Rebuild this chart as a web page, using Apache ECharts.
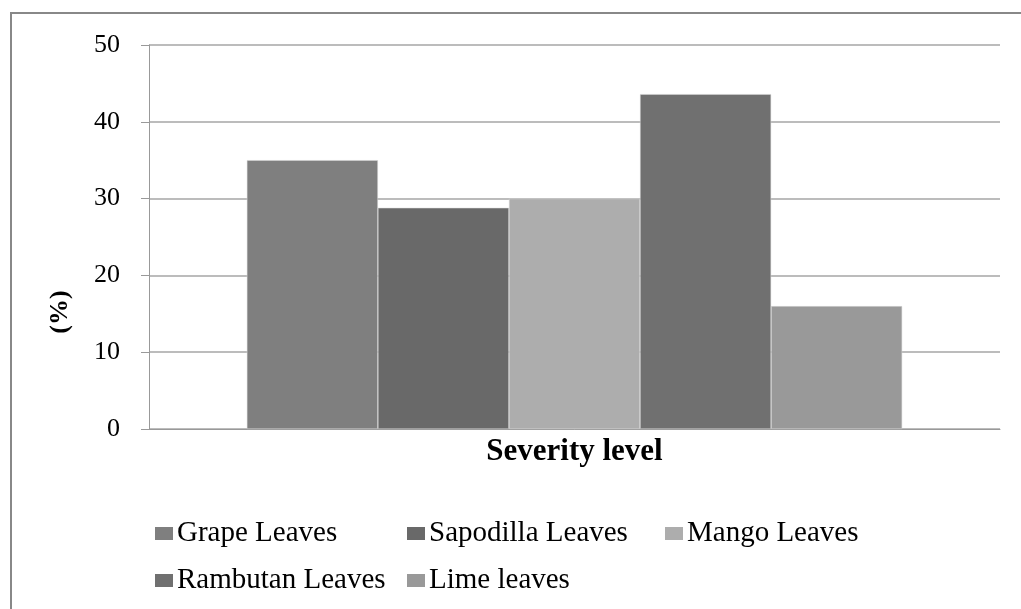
<!DOCTYPE html>
<html>
<head>
<meta charset="utf-8">
<title>Severity level</title>
<script src="https://cdn.jsdelivr.net/npm/echarts@6/dist/echarts.min.js"></script>
<style>
  html, body { margin: 0; padding: 0; background: #fff; }
  #chart { width: 1021px; height: 609px; }
</style>
</head>
<body>
<div id="chart"></div>
<script>
// data
const categories = ['Severity level']
const seriesNames = ['Grape Leaves', 'Sapodilla Leaves', 'Mango Leaves', 'Rambutan Leaves', 'Lime leaves']
const seriesValues = [[35.0], [28.8], [30.0], [43.6], [16.0]]
const barColors = ['#7f7f7f', '#696969', '#adadad', '#707070', '#999999']
const yTicks = { min: 0, max: 50, interval: 10 }

const font = 'Liberation Serif, Times New Roman, serif'

// where each legend entry sits (two rows, like the original)
const legendSpots = [
  { left: 155, top: 519 },
  { left: 407, top: 519 },
  { left: 665, top: 519 },
  { left: 155, top: 566 },
  { left: 407, top: 566 }
]

const chart = echarts.init(document.getElementById('chart'))

chart.setOption({
  backgroundColor: '#fff',
  animation: false,
  color: barColors,
  graphic: [
    {
      type: 'rect',
      shape: { x: 11, y: 13, width: 1200, height: 800 },
      style: { fill: 'none', stroke: '#888', lineWidth: 2 },
      silent: true
    }
  ],
  legend: seriesNames.map((name, i) => ({
    data: [name],
    left: legendSpots[i].left,
    top: legendSpots[i].top,
    padding: 0,
    icon: 'rect',
    itemWidth: 18,
    itemHeight: 13,
    selectedMode: false,
    itemStyle: { borderWidth: 0 },
    textStyle: { fontFamily: font, fontSize: 29, color: '#000', padding: [0, 0, 0, -1] }
  })),
  grid: {
    left: 149,
    right: 21,
    top: 45,
    bottom: 180,
    containLabel: false
  },
  xAxis: {
    type: 'category',
    data: categories,
    axisLine: { show: true, lineStyle: { color: '#999', width: 1 } },
    axisTick: { show: false },
    axisLabel: {
      margin: 7,
      fontFamily: font,
      fontSize: 31,
      fontWeight: 'bold',
      color: '#000'
    }
  },
  yAxis: {
    type: 'value',
    min: yTicks.min,
    max: yTicks.max,
    interval: yTicks.interval,
    name: '(%)',
    nameLocation: 'middle',
    nameGap: 76,
    nameTextStyle: {
      fontFamily: font,
      fontSize: 26,
      fontWeight: 'bold',
      color: '#000',
      padding: [0, 150, 0, 0]
    },
    axisLine: { show: true, lineStyle: { color: '#999', width: 1 } },
    axisTick: { show: true, inside: false, length: 8, lineStyle: { color: '#999' } },
    axisLabel: {
      margin: 29,
      fontFamily: font,
      fontSize: 26,
      color: '#000'
    },
    splitLine: { show: true, lineStyle: { color: '#a6a6a6', width: 1.5 } }
  },
  series: seriesNames.map((name, i) => ({
    name: name,
    type: 'bar',
    data: seriesValues[i],
    barGap: '0%',
    barCategoryGap: '23%',
    itemStyle: { color: barColors[i], borderColor: '#d8d8d8', borderWidth: 0.5 }
  }))
})
</script>
</body>
</html>
